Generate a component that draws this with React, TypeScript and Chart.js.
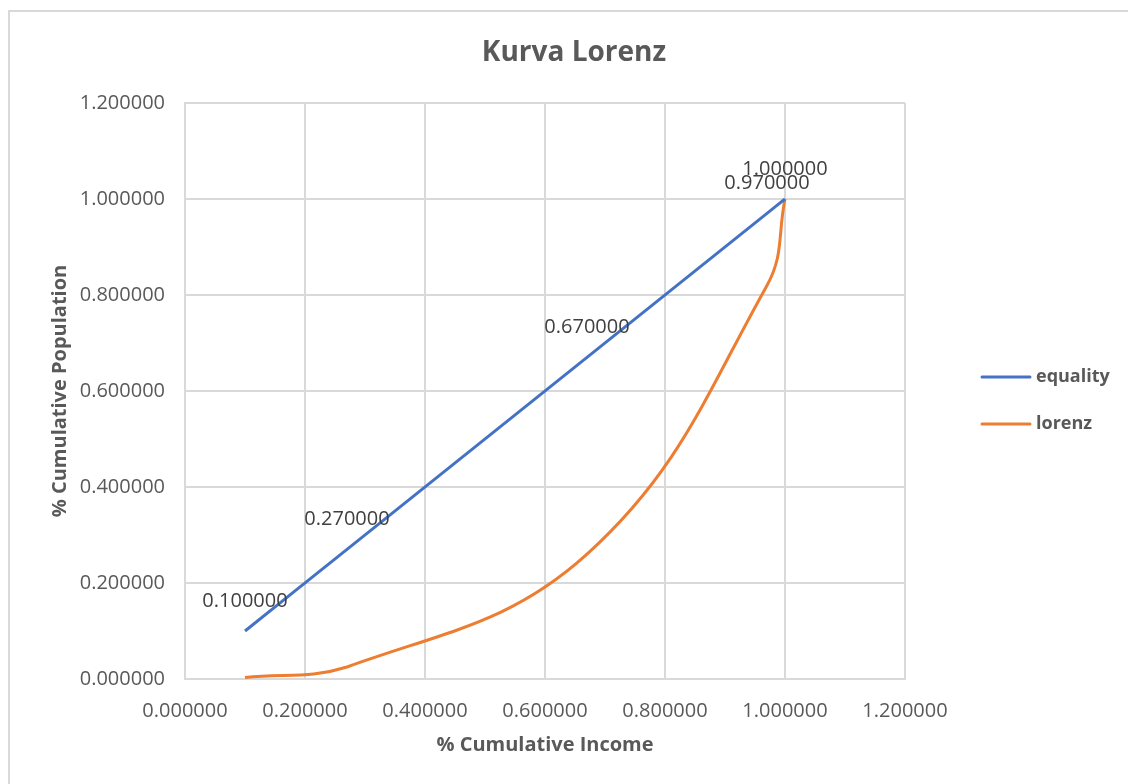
import { useEffect, useRef } from 'react';
import { Chart, registerables } from 'chart.js';

Chart.register(...registerables);

// ---- data ----
const incomeShare = [0.1, 0.27, 0.67, 0.97, 1.0];
const equalityValues = [0.1, 0.27, 0.67, 0.97, 1.0];
const lorenzValues = [0.003, 0.025, 0.26, 0.82, 1.0];
const axisTicks = [0, 0.2, 0.4, 0.6, 0.8, 1.0, 1.2];
const seriesNames = ['equality', 'lorenz'];
const seriesColors = ['#4472C4', '#ED7D31'];
const chartTitle = 'Kurva Lorenz';
const xTitle = '% Cumulative Income';
const yTitle = '% Cumulative Population';

const FONT = '"Open Sans", "DejaVu Sans", sans-serif';

const decorPlugin = {
  id: 'decor',
  beforeDraw(chart: any) {
    const ctx = chart.ctx;
    ctx.save();
    ctx.fillStyle = '#ffffff';
    ctx.fillRect(0, 0, chart.width, chart.height);
    ctx.strokeStyle = '#d9d9d9';
    ctx.lineWidth = 2;
    ctx.beginPath();
    ctx.moveTo(9, chart.height + 5);
    ctx.lineTo(9, 11);
    ctx.lineTo(chart.width + 5, 11);
    ctx.stroke();
    ctx.restore();
  },
  afterDraw(chart: any) {
    const ctx = chart.ctx;
    const area = chart.chartArea;
    ctx.save();
    // title
    ctx.fillStyle = '#595959';
    ctx.font = `bold 28px ${FONT}`;
    ctx.textAlign = 'center';
    ctx.textBaseline = 'middle';
    ctx.fillText(chartTitle, 574, 53);
    // axis titles
    ctx.font = `bold 20px ${FONT}`;
    ctx.fillText(xTitle, (area.left + area.right) / 2, 745);
    ctx.save();
    ctx.translate(60, (area.top + area.bottom) / 2);
    ctx.rotate(-Math.PI / 2);
    ctx.fillText(yTitle, 0, 0);
    ctx.restore();
    // data labels for equality
    ctx.fillStyle = '#404040';
    ctx.font = `20px ${FONT}`;
    const meta = chart.getDatasetMeta(0);
    meta.data.forEach((pt: any, i: number) => {
      ctx.fillText(equalityValues[i].toFixed(6), pt.x, pt.y - 30);
    });
    // legend
    const legendY = [377, 424];
    seriesNames.forEach((name, i) => {
      ctx.strokeStyle = seriesColors[i];
      ctx.lineWidth = 3;
      ctx.lineCap = 'round';
      ctx.beginPath();
      ctx.moveTo(982, legendY[i]);
      ctx.lineTo(1030, legendY[i]);
      ctx.stroke();
      ctx.fillStyle = '#595959';
      ctx.font = `bold 18px ${FONT}`;
      ctx.textAlign = 'left';
      ctx.fillText(name, 1036, legendY[i]);
    });
    ctx.restore();
  },
};

export default function App() {
  const ref = useRef<HTMLCanvasElement | null>(null);

  useEffect(() => {
    if (!ref.current) return;
    const gridColor = '#d9d9d9';
    const tickFont = { family: FONT, size: 20 };
    const chart = new Chart(ref.current, {
      type: 'scatter',
      data: {
        datasets: [
          {
            label: seriesNames[0],
            data: incomeShare.map((x, i) => ({ x, y: equalityValues[i] })),
            borderColor: seriesColors[0],
            backgroundColor: seriesColors[0],
            borderWidth: 3,
            showLine: true,
            tension: 0.4,
            pointRadius: 0,
            pointHoverRadius: 0,
          },
          {
            label: seriesNames[1],
            data: incomeShare.map((x, i) => ({ x, y: lorenzValues[i] })),
            borderColor: seriesColors[1],
            backgroundColor: seriesColors[1],
            borderWidth: 3,
            showLine: true,
            tension: 0.4,
            pointRadius: 0,
            pointHoverRadius: 0,
          },
        ],
      },
      options: {
        responsive: false,
        animation: false,
        layout: { padding: { top: 103, right: 223, left: 0, bottom: 0 } },
        plugins: {
          legend: { display: false },
          title: { display: false },
          tooltip: { enabled: false },
        },
        scales: {
          x: {
            type: 'linear',
            min: 0,
            max: 1.2,
            afterBuildTicks: (s: any) => {
              s.ticks = axisTicks.map((v) => ({ value: v }));
            },
            afterFit: (s: any) => {
              s.height = 105;
            },
            grid: { color: gridColor, lineWidth: 2, drawTicks: false },
            border: { color: gridColor, width: 2 },
            ticks: {
              color: '#595959',
              font: tickFont,
              padding: 20,
              maxRotation: 0,
              autoSkip: false,
              callback: (v: any) => Number(v).toFixed(6),
            },
          },
          y: {
            type: 'linear',
            min: 0,
            max: 1.2,
            afterBuildTicks: (s: any) => {
              s.ticks = axisTicks.map((v) => ({ value: v }));
            },
            afterFit: (s: any) => {
              s.width = 185;
            },
            grid: { color: gridColor, lineWidth: 2, drawTicks: false },
            border: { color: gridColor, width: 2 },
            ticks: {
              color: '#595959',
              font: tickFont,
              padding: 20,
              autoSkip: false,
              callback: (v: any) => Number(v).toFixed(6),
            },
          },
        },
      },
      plugins: [decorPlugin],
    });
    return () => chart.destroy();
  }, []);

  return (
    <div style={{ position: 'absolute', left: 0, top: 0, width: 1128, height: 784 }}>
      <canvas ref={ref} width={1128} height={784} style={{ display: 'block' }} />
    </div>
  );
}
